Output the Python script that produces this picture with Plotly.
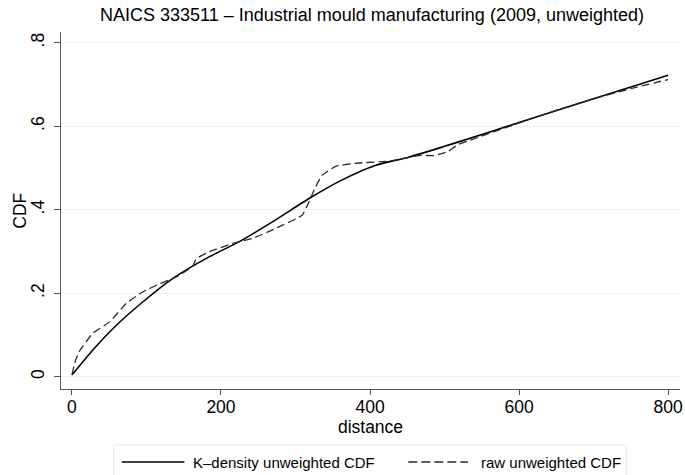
import plotly.graph_objects as go

# ---- data ----
kd_x = [0, 28, 60, 95, 135, 184, 224, 269, 322, 362, 407, 452, 500, 518, 600, 700, 800]
kd_y = [0.004, 0.064, 0.124, 0.179, 0.235, 0.287, 0.323, 0.371, 0.431, 0.471, 0.506, 0.526, 0.552, 0.562, 0.609, 0.666, 0.722]

raw_x = [0, 5, 11, 28, 51, 73, 95, 118, 140, 162, 167, 184, 215, 242, 273, 309, 316, 327, 336, 354,
         385, 429, 465, 487, 505, 518, 535, 600, 650, 700, 750, 800]
raw_y = [0.005, 0.04, 0.064, 0.104, 0.132, 0.176, 0.203, 0.223, 0.239, 0.265, 0.283, 0.299, 0.319,
         0.331, 0.355, 0.387, 0.411, 0.455, 0.483, 0.504, 0.512, 0.517, 0.530, 0.530, 0.540, 0.556,
         0.567, 0.608, 0.638, 0.666, 0.690, 0.712]

x_ticks = [0, 200, 400, 600, 800]
y_ticks = [0, 0.2, 0.4, 0.6, 0.8]
y_tick_labels = ["0", ".2", ".4", ".6", ".8"]

title_text = "NAICS 333511 \u2013 Industrial mould manufacturing (2009, unweighted)"
series_names = ["K\u2013density unweighted CDF", "raw unweighted CDF"]
x_title = "distance"
y_title = "CDF"

FONT = "Liberation Sans, Arial, sans-serif"
W, H = 685, 475
L, R, T, B = 61, 2, 32, 86
pw, ph = W - L - R, H - T - B

def px_x(p):
    return (p - L) / pw

def px_y(p):
    return (H - B - p) / ph

fig = go.Figure()
fig.add_trace(go.Scatter(x=kd_x, y=kd_y, mode="lines", name=series_names[0],
                         line=dict(color="#000000", width=1.6, shape="spline", smoothing=0.6),
                         showlegend=False))
fig.add_trace(go.Scatter(x=raw_x, y=raw_y, mode="lines", name=series_names[1],
                         line=dict(color="#2a2a2a", width=1.3, dash="8px,4px", shape="spline", smoothing=0.4),
                         showlegend=False))

# manual legend (Stata style)
LEG_Y = 462
shapes = [
    dict(type="rect", xref="paper", yref="paper", x0=px_x(114), x1=px_x(629), y0=px_y(445), y1=px_y(490),
         line=dict(color="#e3e9ea", width=1), fillcolor="rgba(0,0,0,0)"),
    dict(type="line", xref="paper", yref="paper", x0=px_x(122), x1=px_x(185), y0=px_y(LEG_Y), y1=px_y(LEG_Y),
         line=dict(color="#000000", width=1.6)),
    dict(type="line", xref="paper", yref="paper", x0=px_x(410), x1=px_x(470), y0=px_y(LEG_Y), y1=px_y(LEG_Y),
         line=dict(color="#2a2a2a", width=1.4, dash="9px,4px")),
]
annotations = [
    dict(text=series_names[0], xref="paper", yref="paper", x=px_x(192), y=px_y(LEG_Y), xanchor="left",
         yanchor="middle", showarrow=False, font=dict(family=FONT, size=15, color="#000")),
    dict(text=series_names[1], xref="paper", yref="paper", x=px_x(481), y=px_y(LEG_Y), xanchor="left",
         yanchor="middle", showarrow=False, font=dict(family=FONT, size=15, color="#000")),
    dict(text=y_title, xref="paper", yref="paper", x=px_x(19), y=0.5, xanchor="center",
         yanchor="middle", textangle=-90, showarrow=False, font=dict(family=FONT, size=17.5, color="#000")),
]

fig.update_layout(
    width=W, height=H,
    margin=dict(l=L, r=R, t=T, b=B),
    paper_bgcolor="white", plot_bgcolor="white",
    font=dict(family=FONT, size=17.5, color="#000"),
    title=dict(text=title_text, x=(L + pw / 2) / W, xanchor="center",
               y=1 - 15 / H, yanchor="middle", yref="container",
               font=dict(family=FONT, size=18, color="#000")),
    shapes=shapes, annotations=annotations,
    showlegend=False,
)
fig.update_xaxes(range=[-14.7, 816], tickvals=x_ticks, showgrid=False, zeroline=False,
                 showline=True, linecolor="#555", linewidth=1, ticks="outside", ticklen=5,
                 tickcolor="#555", tickfont=dict(size=17.5), ticklabeloverflow="allow",
                 ticklabelstandoff=-3,
                 title=dict(text=x_title, standoff=0, font=dict(size=17.5)))
fig.update_yaxes(range=[-0.0294, 0.8258], tickvals=y_ticks, ticktext=y_tick_labels, tickangle=-90,
                 showgrid=True, gridcolor="#e8f0f1", gridwidth=1, zeroline=False,
                 showline=True, linecolor="#555", linewidth=1, ticks="outside", ticklen=6,
                 tickcolor="#555", tickfont=dict(size=17.5), ticklabelstandoff=3)

fig.write_html("out.html")
